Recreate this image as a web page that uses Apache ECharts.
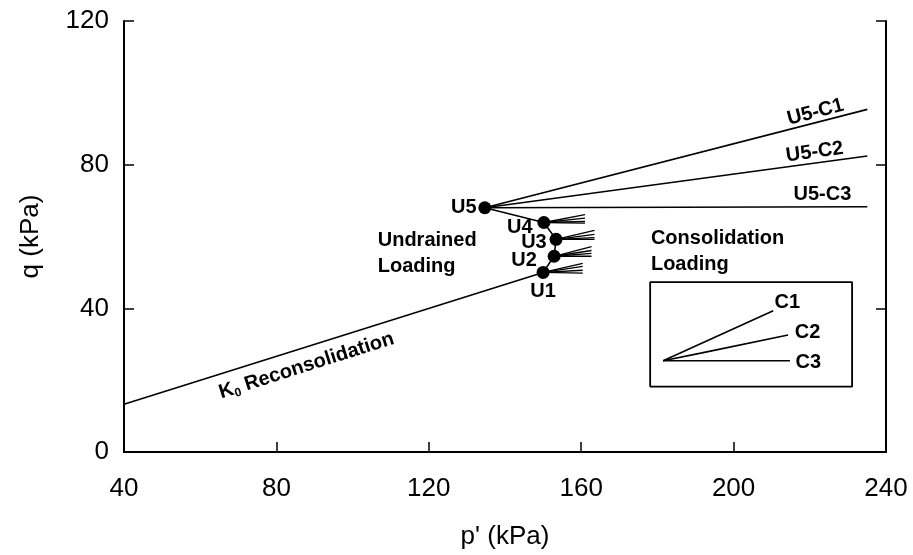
<!DOCTYPE html>
<html>
<head>
<meta charset="utf-8">
<script src="https://cdn.jsdelivr.net/npm/echarts@6/dist/echarts.min.js"></script>
<style>html,body{margin:0;padding:0;background:#fff}#c{width:913px;height:555px}</style>
</head>
<body>
<div id="c"></div>
<script>
// ---- data (p', q in kPa) ----
const xTicks = [40, 80, 120, 160, 200, 240];
const yTicks = [0, 40, 80, 120];
const k0Path = [[40, 13.3], [150.0, 50.0]];
const stressPoints = [[150.0, 50.0], [152.9, 54.5], [153.4, 59.2], [150.2, 63.9], [134.7, 68.0]];
const pointNames = ['U1', 'U2', 'U3', 'U4', 'U5'];
const consolidationEnds = [[235.1, 95.4], [235.1, 82.4], [235.1, 68.3]];
const consolidationNames = ['U5-C1', 'U5-C2', 'U5-C3'];
// short consolidation fans from U1..U4
const fanEndsU1 = [[160.4, 52.5], [160.4, 51.7], [160.4, 50.6], [160.4, 49.8]];
const fanEndsU2 = [[162.7, 57.2], [162.7, 56.1], [162.7, 55.3], [162.7, 54.5]];
const fanEndsU3 = [[163.5, 61.7], [163.5, 60.6], [163.5, 59.7], [163.5, 59.2]];
const fanEndsU4 = [[161.0, 66.1], [161.0, 65.1], [161.0, 64.2], [161.0, 63.7]];
// inset sketch
const insetBox = [[178.1, 18.2], [231.1, 18.2], [231.1, 47.3], [178.1, 47.3], [178.1, 18.2]];
const insetC1 = [[181.5, 25.4], [210.4, 39.3]];
const insetC2 = [[181.5, 25.4], [191.7, 27.6], [214.3, 32.6]];
const insetC3 = [[181.5, 25.4], [214.8, 25.4]];

// ---- annotations (text, data position) ----
const annotations = [
  { t: 'U5', at: [129.2, 68.0] },
  { t: 'U4', at: [143.9, 62.5] },
  { t: 'U3', at: [147.6, 58.3] },
  { t: 'U2', at: [145.0, 53.4] },
  { t: 'U1', at: [150.0, 44.8] },
  { t: 'Undrained\nLoading', at: [106.6, 55.3], align: 'left' },
  { t: 'Consolidation\nLoading', at: [178.3, 55.9], align: 'left' },
  { t: 'U5-C1', at: [221.5, 94.6], rot: 14.5 },
  { t: 'U5-C2', at: [221.3, 83.5], rot: 7.7 },
  { t: 'U5-C3', at: [223.3, 71.6] },
  { t: 'C1', at: [214.1, 41.5] },
  { t: 'C2', at: [219.4, 33.2] },
  { t: 'C3', at: [219.6, 24.9] },
  { t: '{k|K}{s|0}{k| Reconsolidation}', at: [87.9, 24.0], rot: 17.6 }
];

const FONT = 'Liberation Sans, Arial, sans-serif';
const chart = echarts.init(document.getElementById('c'), null, { renderer: 'canvas' });

function lineSeries(data, w) {
  return {
    type: 'line', data: data, symbol: 'none', silent: true, z: 2,
    lineStyle: { color: '#000', width: w || 1.6 }, animation: false
  };
}
const series = [];
series.push(lineSeries(k0Path));
series.push(lineSeries(stressPoints));
const u5 = stressPoints[4];
consolidationEnds.forEach(e => series.push(lineSeries([u5, e])));
[fanEndsU1, fanEndsU2, fanEndsU3, fanEndsU4].forEach((fan, i) => {
  fan.forEach(e => series.push(lineSeries([stressPoints[i], e], 1.3)));
});
series.push(lineSeries(insetBox, 1.8));
series.push(lineSeries(insetC1));
series.push(lineSeries(insetC2));
series.push(lineSeries(insetC3));
series.push({
  type: 'scatter', data: stressPoints, symbol: 'circle', symbolSize: 13, z: 5,
  itemStyle: { color: '#000', opacity: 1 }, animation: false
});
annotations.forEach(a => {
  series.push({
    type: 'scatter', data: [a.at], symbolSize: 0, z: 6, animation: false, silent: true,
    itemStyle: { opacity: 1 },
    label: {
      show: true, position: 'inside', formatter: a.t, color: '#000',
      fontFamily: FONT, fontWeight: 'bold', fontSize: 20, lineHeight: 26,
      align: a.align || 'center', verticalAlign: 'middle',
      rotate: a.rot || 0,
      rich: {
        k: { fontFamily: FONT, fontWeight: 'bold', fontSize: 20, color: '#000' },
        s: { fontFamily: FONT, fontWeight: 'bold', fontSize: 12, color: '#000', padding: [10, 0, 0, 0] }
      }
    }
  });
});

const axisLine = { show: true, lineStyle: { color: '#000', width: 2 } };
const axisTick = { show: true, inside: true, length: 10, lineStyle: { color: '#000', width: 1.5 } };
chart.setOption({
  backgroundColor: '#fff',
  animation: false,
  grid: { left: 124, right: 27, top: 21, bottom: 100 },
  xAxis: [{
    type: 'value', min: xTicks[0], max: xTicks[xTicks.length - 1], interval: 40,
    name: "p' (kPa)", nameLocation: 'middle', nameGap: 72,
    nameTextStyle: { fontFamily: FONT, fontSize: 26, color: '#000' },
    axisLine: axisLine, axisTick: axisTick, splitLine: { show: false },
    axisLabel: { fontFamily: FONT, fontSize: 26, color: '#000', margin: 24 }
  }, {
    type: 'value', position: 'top', min: xTicks[0], max: xTicks[xTicks.length - 1], interval: 40,
    axisLine: axisLine, axisTick: { show: false }, splitLine: { show: false }, axisLabel: { show: false }
  }],
  yAxis: [{
    type: 'value', min: yTicks[0], max: yTicks[yTicks.length - 1], interval: 40,
    name: 'q (kPa)', nameLocation: 'middle', nameGap: 80,
    nameTextStyle: { fontFamily: FONT, fontSize: 26, color: '#000' },
    axisLine: axisLine, axisTick: axisTick, splitLine: { show: false },
    axisLabel: { fontFamily: FONT, fontSize: 26, color: '#000', margin: 15 }
  }, {
    type: 'value', position: 'right', min: yTicks[0], max: yTicks[yTicks.length - 1], interval: 40,
    axisLine: axisLine, axisTick: axisTick, splitLine: { show: false }, axisLabel: { show: false }
  }],
  series: series
});
</script>
</body>
</html>
